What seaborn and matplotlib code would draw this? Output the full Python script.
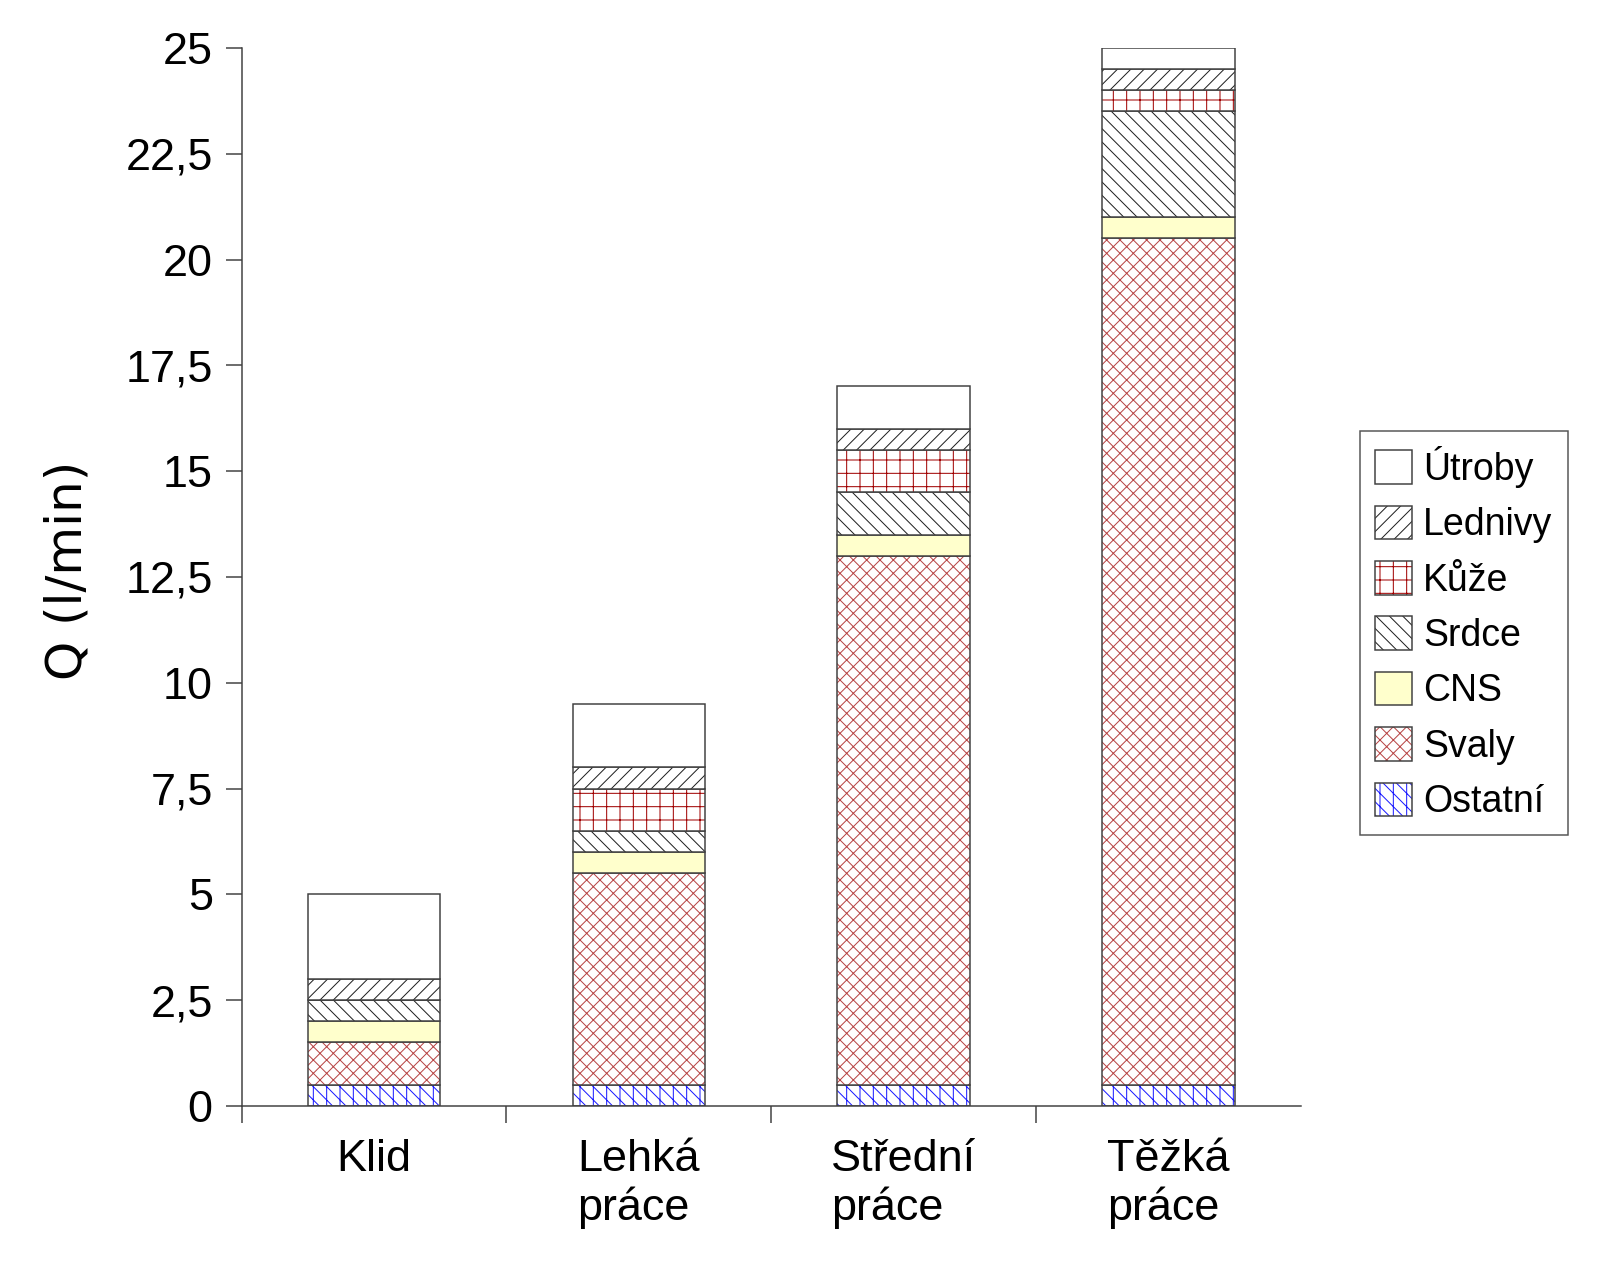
import numpy as np
import matplotlib
matplotlib.use('Agg')
import matplotlib.pyplot as plt
import matplotlib.patches as mpatches
from matplotlib.legend_handler import HandlerTuple
from matplotlib.ticker import FuncFormatter
import seaborn as sns
import warnings

warnings.filterwarnings('ignore')

# --- DATA ---
categories = ['Klid', 'Lehká\npráce', 'Střední\npráce', 'Těžká\npráce']
components = ['Ostatní', 'Svaly', 'CNS', 'Srdce', 'Kůže', 'Lednivy', 'Útroby']
ostatni = [0.5, 0.5, 0.5, 0.5]
svaly = [1.0, 5.0, 12.5, 20.0]
cns = [0.5, 0.5, 0.5, 0.5]
srdce = [0.5, 0.5, 1.0, 2.5]
kuze = [0.0, 1.0, 1.0, 0.5]
lednivy = [0.5, 0.5, 0.5, 0.5]
utroby = [2.0, 1.5, 1.0, 0.5]
values = [ostatni, svaly, cns, srdce, kuze, lednivy, utroby]
y_ticks = [0, 2.5, 5, 7.5, 10, 12.5, 15, 17.5, 20, 22.5, 25]

# --- STYLE ---
sns.set_style('ticks')
plt.rcParams['font.family'] = ['Liberation Sans', 'DejaVu Sans']
plt.rcParams['text.color'] = 'black'
plt.rcParams['xtick.labelcolor'] = 'black'
plt.rcParams['ytick.labelcolor'] = 'black'
plt.rcParams['hatch.linewidth'] = 0.9

OUTLINE = '#404040'
LW = 1.35
# face colour, hatch, hatch colour
styles = {
    'Ostatní': ('white', '|\\\\', '#1a1aff'),
    'Svaly': ('white', 'xx', '#b84444'),
    'CNS': ('#ffffcc', '', OUTLINE),
    'Srdce': ('white', '\\\\', '#202020'),
    'Kůže': ('white', '+', '#a00000'),
    'Lednivy': ('white', '//', '#202020'),
    'Útroby': ('white', '', OUTLINE),
}

DPI = 80
fig, ax = plt.subplots(figsize=(1600 / DPI, 1261 / DPI), dpi=DPI)
fig.subplots_adjust(left=0.151, right=0.813, bottom=0.123, top=0.962)

bottom = np.zeros(len(categories))
for name, vals in zip(components, values):
    face, hatch, hcol = styles[name]
    # hatched fill (hatch takes the edge colour)
    sns.barplot(x=categories, y=vals, order=categories, bottom=bottom,
                color=face, saturation=1, width=0.5, errorbar=None,
                edgecolor=hcol, linewidth=0, hatch=hatch, ax=ax)
    # dark outline of the segment
    sns.barplot(x=categories, y=vals, order=categories, bottom=bottom,
                color=OUTLINE, fill=False, width=0.5, errorbar=None,
                edgecolor=OUTLINE, linewidth=LW, ax=ax)
    bottom += np.array(vals)

# --- AXES ---
ax.set_xlim(-0.5, 3.5)
ax.set_ylim(0, 25)
ax.set_yticks(y_ticks)
ax.yaxis.set_major_formatter(FuncFormatter(lambda v, p: f'{v:g}'.replace('.', ',')))
ax.set_xticks(range(len(categories)))
ax.set_xticklabels(categories, multialignment='left', fontsize=40.5, color='black')
ax.set_xticks([-0.5, 0.5, 1.5, 2.5], minor=True)
ax.tick_params(axis='x', which='major', length=0, pad=30)
ax.tick_params(axis='x', which='minor', length=15, width=LW, color=OUTLINE, direction='out')
ax.tick_params(axis='y', length=14, width=LW, pad=12, color=OUTLINE,
               labelsize=40.5, labelcolor='black', direction='out')
ax.set_xlabel('')
ax.set_ylabel('Q (l/min)', fontsize=45, family='DejaVu Sans', color='black')
ax.yaxis.set_label_coords(-0.142, 0.506)

for side in ['top', 'right']:
    ax.spines[side].set_visible(False)
for side in ['left', 'bottom']:
    ax.spines[side].set_color(OUTLINE)
    ax.spines[side].set_linewidth(LW)

# --- LEGEND ---
handles, labels = [], []
for name in reversed(components):
    face, hatch, hcol = styles[name]
    h1 = mpatches.Patch(facecolor=face, edgecolor=hcol, linewidth=0, hatch=hatch)
    h2 = mpatches.Patch(facecolor='none', edgecolor=OUTLINE, linewidth=LW)
    handles.append((h1, h2))
    labels.append(name)

leg = fig.legend(handles, labels, handler_map={tuple: HandlerTuple(ndivide=1)},
                 loc='center left', bbox_to_anchor=(0.838, 0.498),
                 fontsize=33.75, handlelength=1.0, handleheight=1.0,
                 labelspacing=0.475, handletextpad=0.3, borderpad=0.4,
                 fancybox=False, framealpha=1, edgecolor='#555555')
leg.get_frame().set_linewidth(LW)
for t in leg.get_texts():
    t.set_color('black')

fig.savefig('out.png', dpi=DPI, facecolor='white')
